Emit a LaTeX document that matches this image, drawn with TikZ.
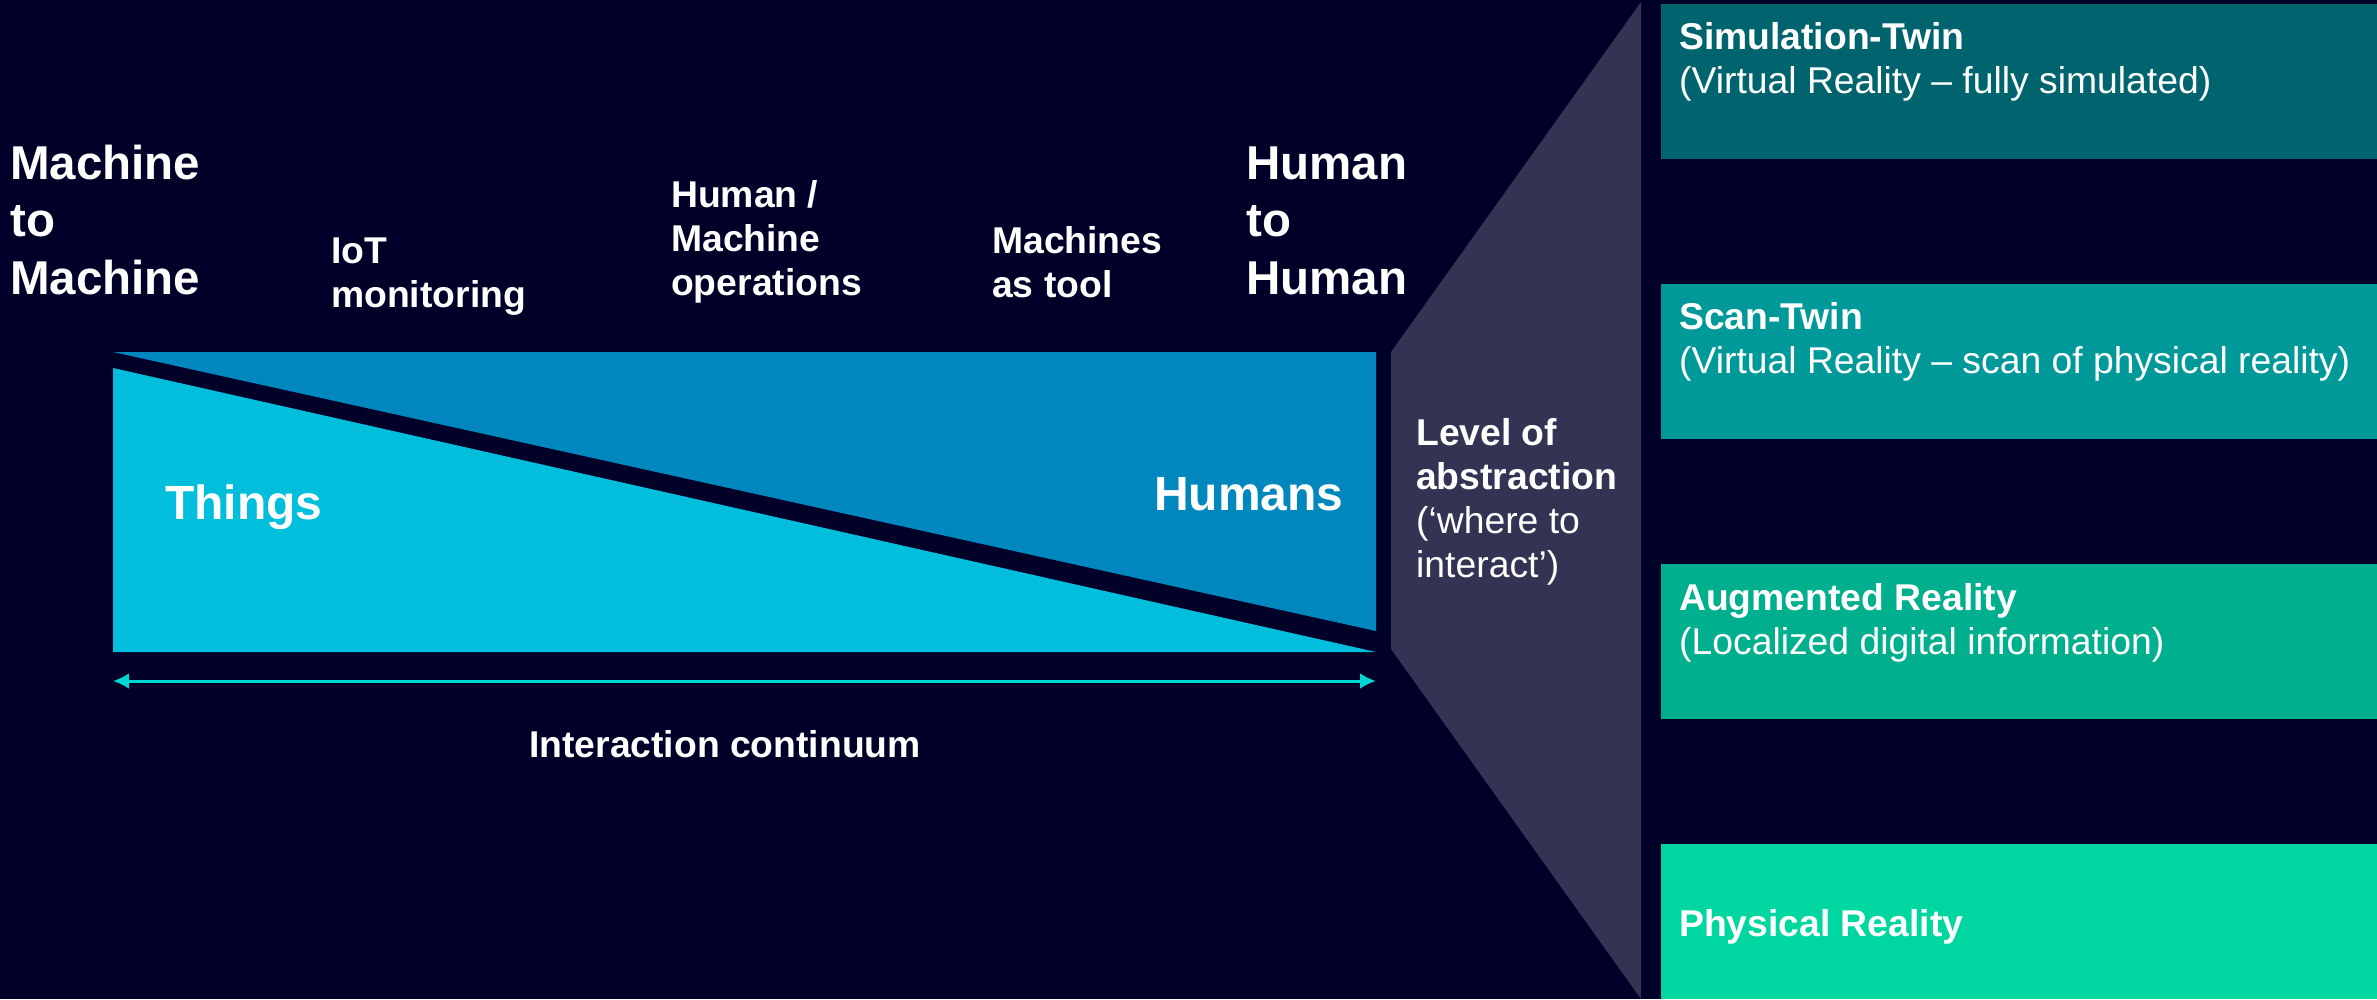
\documentclass[tikz,border=0pt]{standalone}
\usepackage{fontspec}
\setmainfont{Liberation Sans}
\usetikzlibrary{arrows.meta}
\definecolor{bgc}{HTML}{000028}
\definecolor{grayc}{HTML}{333353}
\definecolor{darkblue}{HTML}{0087BE}
\definecolor{lightcyan}{HTML}{00BEDC}
\definecolor{arrowc}{HTML}{00D7D2}
\definecolor{boxa}{HTML}{00646E}
\definecolor{boxb}{HTML}{009999}
\definecolor{boxc}{HTML}{00AF8E}
\definecolor{boxd}{HTML}{00D7A0}
\tikzset{
  lbl/.style={text=white, inner sep=0pt, anchor=base west, align=left, font=\fontsize{37.3}{44}\selectfont},
  blbl/.style={lbl, font=\fontsize{37.3}{44}\selectfont\bfseries},
  biglbl/.style={lbl, font=\fontsize{47.5}{57.5}\selectfont\bfseries},
  hugelbl/.style={lbl, font=\fontsize{48}{56}\selectfont\bfseries},
  layerbox/.style={draw=none, inner sep=0pt, anchor=north west, minimum width=716pt, minimum height=155pt},
  continuum/.style={arrowc, line width=3pt, >={Latex[length=16pt,width=16pt]}, <->}
}
\begin{document}
\begin{tikzpicture}[x=1pt,y=-1pt]
\fill[bgc] (0,0) rectangle (2377,999);
\useasboundingbox (0,0) rectangle (2377,999);
% abstraction funnel
\fill[grayc] (1641,2) -- (1391,352) -- (1391,649) -- (1641,999) -- cycle;
% interaction continuum triangles
\fill[darkblue] (113,352) -- (1376,352) -- (1376,631) -- cycle;
\fill[lightcyan] (113,368) -- (1376,652) -- (113,652) -- cycle;
% arrow
\coordinate (al) at (113,681);
\coordinate (arr) at (1376,681);
\draw[continuum] (al) -- (arr);
% top labels (anchor = baseline of last line)
\node[biglbl] (m2m) at (10,294) {Machine\\to\\Machine};
\node[blbl] (iot) at (331,307) {IoT\\monitoring};
\node[blbl] (hmo) at (671,295) {Human /\\Machine\\operations};
\node[blbl] (mat) at (992,297) {Machines\\as tool};
\node[biglbl] (h2h) at (1246,294) {Human\\to\\Human};
\node[hugelbl] (things) at (165,519) {Things};
\node[hugelbl] (humans) at (1154,510) {Humans};
\node[blbl] (ic) at (529,757) {Interaction continuum};
\node[lbl] (loa) at (1416,577) {\textbf{Level of}\\\textbf{abstraction}\\(‘where to\\interact’)};
% layers
\node[layerbox, fill=boxa] (sim) at (1661,4) {};
\node[layerbox, fill=boxb] (scan) at (1661,284) {};
\node[layerbox, fill=boxc] (aug) at (1661,564) {};
\node[layerbox, fill=boxd] (phys) at (1661,844) {};
\node[lbl] (simt) at (1679,93) {\textbf{Simulation-Twin}\\(Virtual Reality – fully simulated)};
\node[lbl] (scant) at (1679,373) {\textbf{Scan-Twin}\\(Virtual Reality – scan of physical reality)};
\node[lbl] (augt) at (1679,654) {\textbf{Augmented Reality}\\(Localized digital information)};
\node[blbl] (physt) at (1679,936) {Physical Reality};
\end{tikzpicture}
\end{document}
